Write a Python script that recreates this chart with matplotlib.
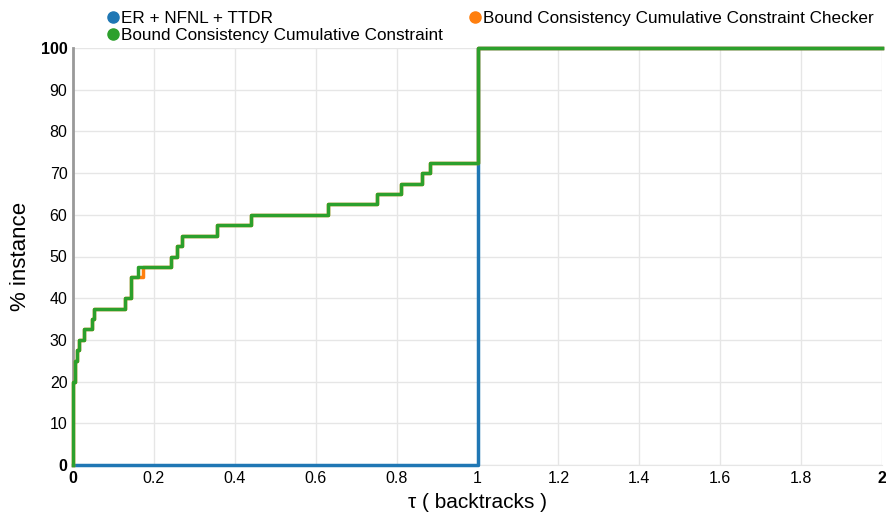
import matplotlib
matplotlib.use("Agg")
import matplotlib.pyplot as plt

plt.rcParams['font.family'] = ['Liberation Sans', 'DejaVu Sans']

# Performance profile data (tau in backtracks, % instances solved)
er_x = [0, 1.0, 2.0]
er_y = [0, 100, 100]

bc_x = [0, 0.001, 0.0055, 0.0094, 0.016, 0.027, 0.047, 0.053, 0.128, 0.144, 0.161,
        0.242, 0.258, 0.270, 0.357, 0.441, 0.631, 0.751, 0.812, 0.864, 0.883, 1.0, 2.0]
bc_y = [0, 20, 25, 27.5, 30, 32.5, 35, 37.5, 40, 45, 47.5,
        50, 52.5, 55, 57.5, 60, 62.5, 65, 67.5, 70, 72.5, 100, 100]

chk_x = [0, 0.001, 0.0055, 0.0094, 0.016, 0.027, 0.047, 0.053, 0.128, 0.144, 0.172,
         0.242, 0.258, 0.270, 0.357, 0.441, 0.631, 0.751, 0.812, 0.864, 0.883, 1.0, 2.0]
chk_y = bc_y

labels = ["ER + NFNL + TTDR",
          "Bound Consistency Cumulative Constraint Checker",
          "Bound Consistency Cumulative Constraint"]
colors = ["#1f77b4", "#ff7f0e", "#2ca02c"]

fig = plt.figure(figsize=(8.86, 5.18), dpi=100)
ax = fig.add_axes([73 / 886, 53 / 518, 809 / 886, 417 / 518])

l1, = ax.step(er_x, er_y, where='post', color=colors[0], lw=2.5, clip_on=False, zorder=3)
l2, = ax.step(chk_x, chk_y, where='post', color=colors[1], lw=2.5, clip_on=False, zorder=4)
l3, = ax.step(bc_x, bc_y, where='post', color=colors[2], lw=2.5, clip_on=False, zorder=5)

ax.set_xlim(0, 2)
ax.set_ylim(0, 100)
ax.set_xticks([0, 0.2, 0.4, 0.6, 0.8, 1, 1.2, 1.4, 1.6, 1.8, 2])
ax.set_xticklabels(["0", "0.2", "0.4", "0.6", "0.8", "1", "1.2", "1.4", "1.6", "1.8", "2"])
ax.set_yticks(range(0, 101, 10))
ax.tick_params(length=0, labelsize=11.5, pad=4)
for t in [ax.get_xticklabels()[0], ax.get_xticklabels()[-1],
          ax.get_yticklabels()[0], ax.get_yticklabels()[-1]]:
    t.set_fontweight('bold')

ax.grid(True, color='#e6e6e6', lw=1)
for s in ['top', 'right']:
    ax.spines[s].set_visible(False)
ax.spines['left'].set_color('#999999')
ax.spines['left'].set_linewidth(2)
ax.spines['bottom'].set_color('#e6e6e6')

ax.set_xlabel("τ ( backtracks )", fontsize=15, labelpad=5)
ax.set_ylabel("% instance", fontsize=16, labelpad=7)

fig.legend([l1, l3, l2], [labels[0], labels[2], labels[1]], ncol=2,
           loc='upper left', bbox_to_anchor=(101 / 886, 1 - 4 / 518), frameon=False,
           fontsize=12.3, handlelength=0.6, handletextpad=0.15,
           columnspacing=1.6, labelspacing=0.15, borderaxespad=0)
leg = fig.legends[0]
for h, c in zip(leg.legend_handles, [colors[0], colors[2], colors[1]]):
    h.set_linestyle('')
    h.set_marker('o')
    h.set_markersize(8)
    h.set_color(c)

fig.savefig("out.png", dpi=100)
